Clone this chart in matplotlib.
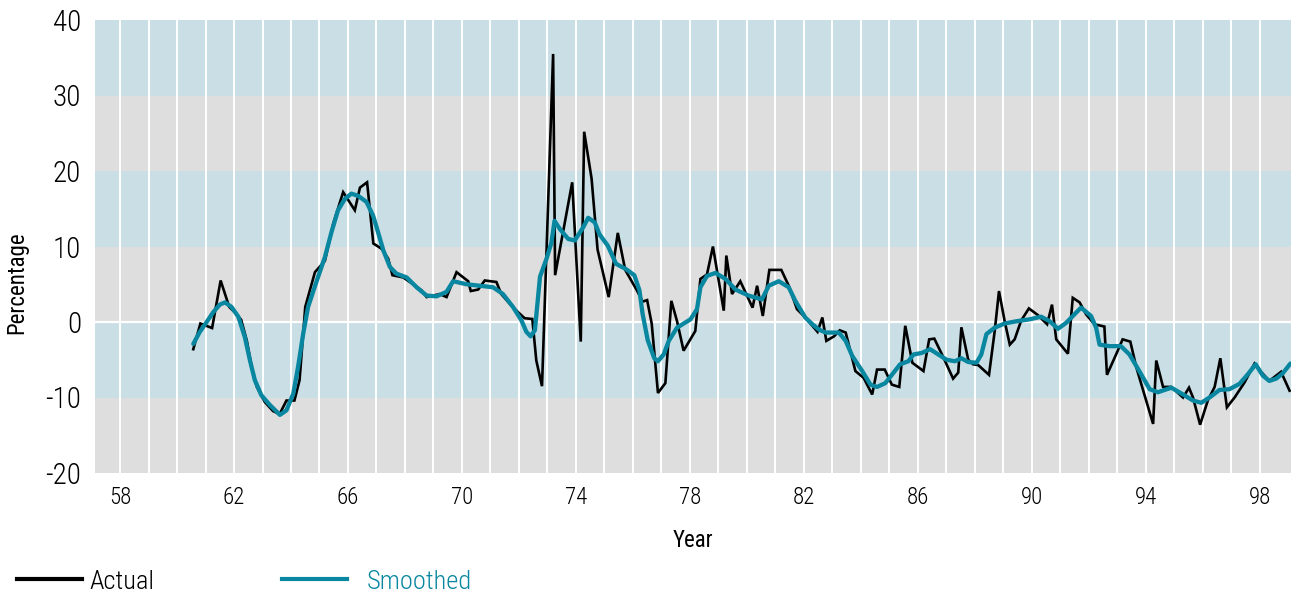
import numpy as np
import matplotlib
matplotlib.use("Agg")
import matplotlib.pyplot as plt
from matplotlib.lines import Line2D

# actual series, (decimal year, percentage)
actual_year = [60.57, 60.82, 61.23, 61.53, 61.83, 62.05, 62.25, 62.45, 62.62, 62.80,
               63.08, 63.37, 63.60, 63.84, 64.12, 64.30, 64.50, 64.84, 65.19, 65.48,
               65.83, 66.24, 66.42, 66.67, 66.89, 67.18, 67.41, 67.56, 67.94, 68.17,
               68.58, 68.76, 69.22, 69.46, 69.81, 70.22, 70.31, 70.57, 70.80, 71.21,
               71.38, 71.68, 71.97, 72.20, 72.47, 72.61, 72.81, 73.20, 73.27, 73.87,
               74.17, 74.29, 74.55, 74.76, 75.15, 75.47, 75.73, 76.14, 76.34, 76.50,
               76.66, 76.88, 77.14, 77.35, 77.55, 77.78, 78.19, 78.37, 78.60, 78.81,
               79.19, 79.28, 79.48, 79.77, 80.20, 80.36, 80.56, 80.79, 81.21, 81.47,
               81.76, 82.05, 82.48, 82.65, 82.79, 83.06, 83.26, 83.47, 83.81, 84.10,
               84.40, 84.57, 84.84, 85.09, 85.35, 85.56, 85.81, 86.20, 86.40, 86.58,
               86.90, 87.24, 87.42, 87.53, 87.77, 87.94, 88.12, 88.50, 88.70, 88.85,
               89.05, 89.23, 89.40, 89.63, 89.90, 90.22, 90.54, 90.71, 90.86, 91.27,
               91.44, 91.68, 91.91, 92.20, 92.55, 92.64, 92.96, 93.19, 93.46, 93.67,
               94.26, 94.37, 94.61, 94.90, 95.31, 95.52, 95.66, 95.91, 96.18, 96.42,
               96.62, 96.85, 97.12, 97.47, 97.82, 98.05, 98.34, 98.75, 99.05]
actual_pct = [-3.6, -0.2, -0.8, 5.5, 2.0, 1.2, 0.3, -2.5, -6.0, -8.6,
              -10.6, -11.8, -12.2, -10.4, -10.4, -7.7, 2.0, 6.6, 8.1, 13.0,
              17.2, 14.8, 17.8, 18.5, 10.4, 9.7, 8.4, 6.2, 5.9, 5.3,
              4.2, 3.3, 3.7, 3.3, 6.6, 5.4, 4.1, 4.3, 5.5, 5.3,
              3.7, 2.4, 1.3, 0.5, 0.4, -5.1, -8.5, 35.5, 6.2, 18.5,
              -2.6, 25.2, 19.0, 9.6, 3.3, 11.8, 6.9, 4.2, 2.7, 2.9,
              -0.2, -9.4, -8.1, 2.8, 0.1, -3.8, -1.2, 5.7, 6.3, 10.0,
              1.5, 8.8, 3.7, 5.4, 1.9, 4.8, 0.8, 6.9, 6.9, 4.8,
              1.7, 0.6, -1.3, 0.6, -2.5, -1.9, -1.1, -1.4, -6.5, -7.4,
              -9.6, -6.3, -6.3, -8.3, -8.6, -0.5, -5.4, -6.5, -2.3, -2.2,
              -4.7, -7.5, -6.7, -0.7, -5.0, -5.6, -5.7, -7.0, -1.2, 4.1,
              0.1, -3.0, -2.3, 0.2, 1.8, 0.9, -0.3, 2.3, -2.3, -4.2,
              3.2, 2.6, 1.0, -0.3, -0.6, -7.0, -4.3, -2.3, -2.6, -6.0,
              -13.5, -5.1, -8.6, -8.6, -10.0, -8.7, -10.0, -13.6, -10.4, -8.6,
              -4.8, -11.3, -10.0, -8.0, -5.5, -6.6, -7.8, -6.6, -9.1]

# smoothed series
smooth_year = [60.57, 60.80, 61.04, 61.27, 61.50, 61.68, 61.91, 62.15, 62.38, 62.56,
               62.73, 62.96, 63.26, 63.61, 63.84, 64.08, 64.25, 64.43, 64.60, 64.89,
               65.19, 65.42, 65.65, 65.89, 66.12, 66.36, 66.65, 66.88, 67.00, 67.24,
               67.47, 67.70, 68.06, 68.41, 68.76, 69.11, 69.46, 69.69, 70.16, 70.63,
               71.09, 71.44, 71.79, 72.09, 72.26, 72.41, 72.56, 72.74, 72.97, 73.14,
               73.25, 73.44, 73.73, 73.96, 74.25, 74.43, 74.66, 74.83, 75.12, 75.41,
               75.76, 76.05, 76.23, 76.34, 76.52, 76.75, 76.88, 77.08, 77.26, 77.55,
               78.02, 78.25, 78.37, 78.60, 78.90, 79.25, 79.60, 80.06, 80.53, 80.77,
               81.12, 81.47, 81.70, 82.05, 82.30, 82.53, 82.77, 83.23, 83.47, 83.70,
               84.05, 84.34, 84.57, 84.86, 85.15, 85.38, 85.67, 85.85, 86.14, 86.43,
               86.72, 87.01, 87.30, 87.53, 87.77, 88.06, 88.23, 88.41, 88.70, 89.05,
               89.46, 89.92, 90.33, 90.63, 90.92, 91.21, 91.73, 92.08, 92.26, 92.38,
               92.73, 93.13, 93.43, 93.79, 94.14, 94.43, 94.90, 95.31, 95.66, 95.95,
               96.24, 96.59, 96.94, 97.29, 97.59, 97.86, 98.11, 98.34, 98.58, 98.81,
               99.08]
smooth_pct = [-2.9, -1.3, 0.0, 1.3, 2.3, 2.6, 2.0, 0.7, -2.0, -5.1,
              -7.7, -9.7, -11.0, -12.3, -11.7, -9.5, -5.9, -1.5, 2.0, 5.3,
              8.6, 11.9, 14.8, 16.3, 17.0, 16.7, 15.9, 14.1, 12.6, 9.5,
              7.3, 6.4, 5.9, 4.6, 3.5, 3.4, 4.0, 5.4, 5.0, 4.8,
              4.6, 3.7, 2.0, 0.2, -1.3, -1.9, -1.1, 6.0, 8.4, 10.5,
              13.4, 12.3, 11.0, 10.8, 12.5, 13.8, 13.2, 11.6, 10.1, 7.7,
              7.0, 6.2, 4.2, 1.1, -2.4, -4.8, -5.2, -4.3, -2.5, -0.75,
              0.35, 1.7, 4.6, 6.1, 6.5, 5.7, 4.3, 3.5, 3.0, 4.8,
              5.4, 4.6, 2.8, 0.6, -0.3, -1.0, -1.4, -1.4, -2.5, -4.5,
              -6.5, -8.3, -8.6, -8.1, -6.7, -5.6, -5.2, -4.3, -4.1, -3.6,
              -4.3, -5.0, -5.2, -4.8, -5.3, -5.4, -4.3, -1.6, -0.75, -0.2,
              0.1, 0.35, 0.7, 0.1, -0.9, -0.1, 1.9, 0.8, -0.75, -3.0,
              -3.2, -3.2, -4.3, -6.6, -8.9, -9.3, -8.7, -9.6, -10.4, -10.7,
              -10.0, -9.0, -8.9, -8.2, -6.9, -5.6, -7.1, -7.8, -7.5, -6.8,
              -5.5]

band_edges = [-20, -10, 0, 10, 20, 30, 40]
band_colors = ["#dedede", "#c9dfe5", "#dedede", "#c9dfe5", "#dedede", "#c9dfe5"]
x_labels = [58, 62, 66, 70, 74, 78, 82, 86, 90, 94, 98]

TEAL = "#0a87a0"
plt.rcParams["font.family"] = ["Roboto Condensed", "Liberation Sans Narrow",
                               "Roboto", "DejaVu Sans"]
plt.rcParams["font.weight"] = "light"

fig = plt.figure(figsize=(12.91, 5.94), dpi=100)
ax = fig.add_axes([95 / 1291, 121 / 594, 1 - 95 / 1291, 453 / 594])

for i in range(len(band_colors)):
    ax.axhspan(band_edges[i], band_edges[i + 1], color=band_colors[i], lw=0, zorder=0)

for yr in range(58, 99):
    ax.axvline(yr, color="white", lw=1.4, zorder=1)
ax.axhline(0, color="white", lw=1.6, zorder=1)

ax.plot(actual_year, actual_pct, color="black", lw=1.9, zorder=3, solid_joinstyle="miter")
ax.plot(smooth_year, smooth_pct, color=TEAL, lw=3.1, zorder=4,
        solid_joinstyle="round", solid_capstyle="round")

ax.set_xlim(57.12, 99.1)
ax.set_ylim(-20, 40)
ax.set_xticks(x_labels)
ax.set_xticklabels([str(v) for v in x_labels], fontsize=16.5)
ax.set_yticks(band_edges)
ax.set_yticklabels([str(v) for v in band_edges], fontsize=21)
ax.tick_params(axis="x", length=0, pad=9)
ax.tick_params(axis="y", length=0, pad=10)
for s in ax.spines.values():
    s.set_visible(False)

ax.set_xlabel("Year", fontsize=16.5, labelpad=15)
ax.set_ylabel("Percentage", fontsize=16.5)
ax.yaxis.set_label_coords(-0.056, 0.42)

leg1 = fig.legend([Line2D([], [], color="black", lw=3)], ["Actual"],
                  loc="center left", bbox_to_anchor=(17 / 1291, 0.021),
                  frameon=False, fontsize=19, handlelength=2.45, handletextpad=0.3,
                  borderpad=0, borderaxespad=0)
leg2 = fig.legend([Line2D([], [], color=TEAL, lw=3)], ["Smoothed"],
                  loc="center left", bbox_to_anchor=(282 / 1291, 0.021),
                  frameon=False, fontsize=19, handlelength=2.45, handletextpad=0.75,
                  borderpad=0, borderaxespad=0)
leg2.get_texts()[0].set_color(TEAL)

fig.savefig("out.png", dpi=100)
